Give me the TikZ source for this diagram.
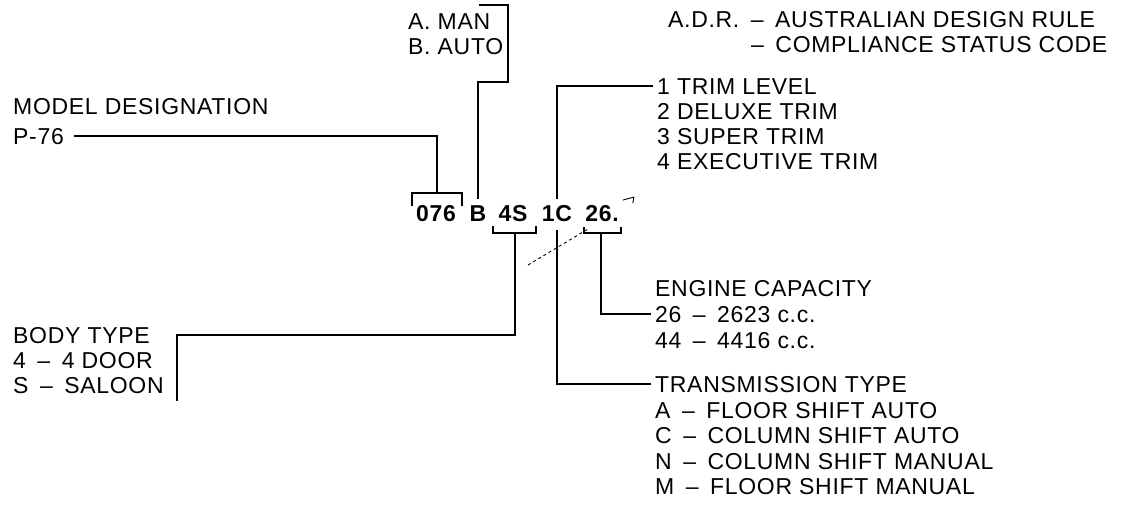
\documentclass[tikz,border=0pt]{standalone}
\usepackage{fontspec}
\setmainfont{Liberation Sans}[LetterSpace=3]
\newcommand{\dsh}{\enspace--\enspace}

\begin{document}
\begin{tikzpicture}[x=1pt, y=-1pt,
  lbl/.style={anchor=base west, inner sep=0pt, font=\fontsize{23}{27}\selectfont},
  code/.style={anchor=base, inner sep=0pt, font=\fontsize{23}{27}\selectfont\bfseries},
  conn/.style={line width=1.8pt},
  stray/.style={line width=0.9pt}
]
  \useasboundingbox (0,0) rectangle (1130,511);

  % the plate code
  \node[code] (c076) at (436,221) {076};
  \node[code] (cB)   at (478,221) {B};
  \node[code] (c4S)  at (513,221) {4S};
  \node[code] (c1C)  at (557,221) {1C};
  \node[code] (c26)  at (602,221) {26.};

  % legends
  \node[lbl] (man)   at (408,30) {A. MAN};
  \node[lbl] (auto)  at (408,55) {B. AUTO};
  \node[lbl] (model) at (13,114) {MODEL DESIGNATION};
  \node[lbl] (p76)   at (13,144) {P-76};

  \node[lbl] (adr)   at (668,28) {A.D.R.\dsh AUSTRALIAN DESIGN RULE};
  \node[lbl] (comp)  at (751,53) {--\enspace COMPLIANCE STATUS CODE};
  \node[lbl] (trim)  at (657,94) {1 TRIM LEVEL};
  \node[lbl] (dlx)   at (657,119) {2 DELUXE TRIM};
  \node[lbl] (sup)   at (657,144) {3 SUPER TRIM};
  \node[lbl] (exe)   at (657,169) {4 EXECUTIVE TRIM};

  \node[lbl] (eng)   at (655,296) {ENGINE CAPACITY};
  \node[lbl] (cc26)  at (655,322) {26\dsh 2623 c.c.};
  \node[lbl] (cc44)  at (655,348) {44\dsh 4416 c.c.};

  \node[lbl] (body)  at (13,343) {BODY TYPE};
  \node[lbl] (door)  at (13,368) {4\dsh 4 DOOR};
  \node[lbl] (sal)   at (13,393) {S\dsh SALOON};

  \node[lbl] (tra)   at (655,392) {TRANSMISSION TYPE};
  \node[lbl] (fsa)   at (655,418) {A\dsh FLOOR SHIFT AUTO};
  \node[lbl] (csa)   at (655,443) {C\dsh COLUMN SHIFT AUTO};
  \node[lbl] (csm)   at (655,469) {N\dsh COLUMN SHIFT MANUAL};
  \node[lbl] (fsm)   at (655,494) {M\dsh FLOOR SHIFT MANUAL};

  % bracket points
  \coordinate (brk076) at (437,193);
  \coordinate (brk4S)  at (515,233);
  \coordinate (brk26)  at (601,233);
  \coordinate (autostep) at (508,82);
  \coordinate (mantop)   at (479,5);
  \coordinate (bodytop)  at (177,335);
  \coordinate (bodyend)  at (177,401);

  % brackets
  \draw[conn] ([shift={(-25,13)}]brk076) -- ++(0,-13) -- ++(50,0) -- ++(0,13);
  \draw[conn] ([shift={(-22,-7)}]brk4S) -- ++(0,7) -- ++(43,0) -- ++(0,-7);
  \draw[conn] ([shift={(-17,-6)}]brk26) -- ++(0,6) -- ++(37,0) -- ++(0,-6);

  % connectors
  \draw[conn] ([xshift=10pt]p76.east) -| (brk076);
  \draw[conn] ([yshift=6pt]cB.north) |- (autostep) |- (mantop);
  \draw[conn] ([yshift=6pt]c1C.north) |- ([xshift=-4pt]trim.west);
  \draw[conn] ([yshift=-9pt]c1C.south) |- ([xshift=-4pt]tra.west);
  \draw[conn] (brk4S) |- (bodytop) -- (bodyend);
  \draw[conn] (brk26) |- ([xshift=-4pt]cc26.west);

  % stray marks
  \coordinate (dsh1) at (528,265);
  \coordinate (dsh2) at (588,229);
  \draw[stray, dashed] (dsh1) -- (dsh2);
  \draw[stray] ([shift={(4,-13)}]c26.east) -- ++(11,-3) -- ++(-1,6);
\end{tikzpicture}
\end{document}
